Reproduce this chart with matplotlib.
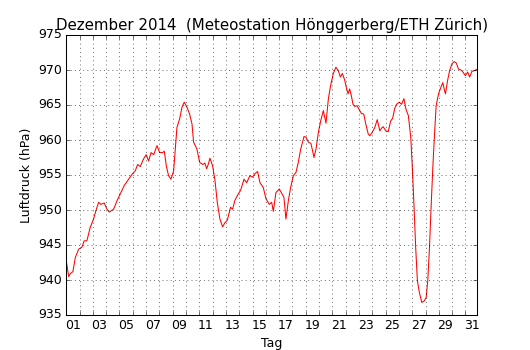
import matplotlib
matplotlib.use("Agg")
import matplotlib.pyplot as plt
from matplotlib.ticker import FixedLocator, NullFormatter

plt.style.use("classic")

# Time in days since 1 Dec 2014 00:00, pressure in hPa
days = [0.0, 0.18, 0.3, 0.5, 0.68, 0.93, 1.18, 1.35, 1.55, 1.8, 2.05, 2.23, 2.43, 2.6,
        2.86, 3.06, 3.23, 3.56, 3.81, 4.06, 4.36, 4.61, 4.94, 5.19, 5.36, 5.56, 5.81,
        6.01, 6.19, 6.37, 6.57, 6.82, 7.02, 7.24, 7.37, 7.52, 7.69, 7.87, 8.07, 8.32,
        8.52, 8.7, 8.87, 9.07, 9.27, 9.45, 9.57, 9.82, 10.03, 10.25, 10.42, 10.55,
        10.67, 10.8, 11.0, 11.18, 11.35, 11.55, 11.75, 11.93, 12.1, 12.35, 12.5, 12.68,
        12.93, 13.1, 13.36, 13.56, 13.8, 14.0, 14.18, 14.38, 14.56, 14.81, 15.01, 15.26,
        15.44, 15.56, 15.76, 16.01, 16.19, 16.36, 16.51, 16.69, 16.86, 17.07, 17.27,
        17.44, 17.62, 17.87, 18.02, 18.19, 18.39, 18.62, 18.77, 18.95, 19.12, 19.32,
        19.52, 19.7, 19.87, 20.07, 20.27, 20.45, 20.6, 20.75, 20.92, 21.05, 21.18, 21.3,
        21.43, 21.55, 21.68, 21.86, 22.0, 22.18, 22.36, 22.51, 22.69, 22.81, 23.0, 23.19,
        23.37, 23.57, 23.7, 23.82, 24.02, 24.2, 24.38, 24.53, 24.7, 24.83, 25.03, 25.2,
        25.38, 25.53, 25.71, 25.89, 26.01, 26.14, 26.26, 26.39, 26.54, 26.72, 26.9,
        27.05, 27.17, 27.3, 27.42, 27.55, 27.68, 27.8, 27.98, 28.15, 28.3, 28.4, 28.5,
        28.66, 28.81, 28.99, 29.16, 29.31, 29.49, 29.66, 29.82, 29.99, 30.17, 30.32,
        30.49, 30.67, 30.87]
pressure = [942.8, 940.5, 940.9, 941.2, 943.2, 944.4, 944.7, 945.6, 945.6, 947.5, 948.7,
            949.9, 951.1, 950.8, 951.0, 950.1, 949.7, 950.1, 951.3, 952.3, 953.5, 954.2,
            955.1, 955.6, 956.5, 956.2, 957.3, 957.9, 957.0, 958.2, 957.9, 959.2, 958.2,
            958.2, 958.4, 956.3, 954.9, 954.4, 955.6, 961.8, 963.0, 964.7, 965.4, 964.7,
            963.7, 962.3, 959.7, 958.7, 956.8, 956.5, 956.7, 955.9, 956.5, 957.4, 956.3,
            954.2, 951.1, 948.7, 947.6, 948.2, 948.5, 950.4, 950.1, 951.4, 952.3, 952.8,
            954.4, 953.9, 954.9, 954.7, 955.2, 955.5, 953.9, 953.2, 951.6, 950.8, 951.1,
            949.8, 952.5, 953.0, 952.4, 951.8, 948.7, 951.3, 953.2, 954.9, 955.4, 956.8,
            958.7, 960.5, 960.4, 959.7, 959.5, 957.5, 958.7, 961.1, 962.7, 964.2, 962.4,
            965.9, 967.8, 969.5, 970.4, 969.9, 969.0, 969.5, 968.6, 967.5, 966.6, 967.3,
            966.3, 965.1, 964.8, 964.9, 964.4, 963.8, 963.7, 962.3, 960.9, 960.6, 961.1,
            961.8, 962.9, 961.3, 961.7, 961.9, 961.3, 961.2, 962.7, 963.1, 964.6, 965.1,
            965.4, 965.1, 965.9, 964.4, 963.5, 960.4, 956.1, 950.4, 944.7, 939.9, 938.2,
            936.8, 937.0, 937.5, 939.9, 944.7, 950.4, 956.1, 960.9, 964.9, 966.6, 967.5,
            968.2, 967.3, 966.6, 968.5, 969.9, 970.9, 971.2, 971.0, 970.1, 970.0, 969.7,
            969.2, 969.7, 969.0, 969.8, 969.9, 970.1]

day_labels = ["%02d" % d for d in range(1, 32, 2)]
title = "Dezember 2014  (Meteostation Hönggerberg/ETH Zürich)"

fig = plt.figure(figsize=(530 / 75, 350 / 75), dpi=75)
ax = fig.add_subplot(111)
ax.plot(days, pressure, color="r", linewidth=1.0)

ax.set_xlim(0, 30.87)
ax.set_ylim(935, 975)
ax.set_yticks(range(935, 976, 5))

ax.xaxis.set_major_locator(FixedLocator(list(range(1, 31))))
ax.xaxis.set_major_formatter(NullFormatter())
ax.xaxis.set_minor_locator(FixedLocator([d - 0.5 for d in range(1, 32, 2)]))
ax.set_xticklabels(day_labels, minor=True)
ax.tick_params(axis="x", which="minor", length=0)

ax.grid(True, which="major")
ax.set_xlabel("Tag")
ax.set_ylabel("Luftdruck (hPa)")
ax.set_title(title)

fig.savefig("out.png", dpi=75)
